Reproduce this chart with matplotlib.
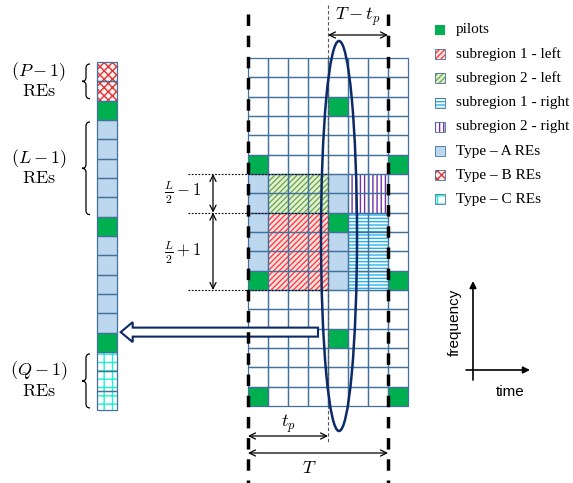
import matplotlib.pyplot as plt
from matplotlib.patches import Rectangle, Ellipse, FancyArrow, PathPatch
from matplotlib.path import Path

plt.rcParams['mathtext.fontset'] = 'cm'
plt.rcParams['hatch.linewidth'] = 1.0

# resource grid: 8 OFDM symbols (columns) x 18 subcarriers (rows), row 0 on top
N_COLS = 8
N_ROWS = 18
pilot_cells = [(0, 5), (7, 5), (0, 11), (7, 11), (0, 17), (7, 17), (4, 2), (4, 8), (4, 14)]
type_a_cells = [(0, 6), (0, 7), (0, 8), (0, 9), (0, 10),
                (4, 6), (4, 7), (4, 9), (4, 10), (4, 11)]
# blocks: first col, last col, first row, last row
sub1_left_block = (1, 3, 8, 11)
sub2_left_block = (1, 3, 6, 7)
sub1_right_block = (5, 6, 8, 11)
sub2_right_block = (5, 6, 6, 7)

# the single column on the left, top to bottom
left_column = ['B', 'B', 'P', 'A', 'A', 'A', 'A', 'A', 'P',
               'A', 'A', 'A', 'A', 'A', 'P', 'C', 'C', 'C']
T_SYMBOLS = 7
TP_SYMBOLS = 4

legend_keys = ['P', 'S1L', 'S2L', 'S1R', 'S2R', 'A', 'B', 'C']
legend_labels = ['pilots', 'subregion 1 - left', 'subregion 2 - left',
                 'subregion 1 - right', 'subregion 2 - right',
                 'Type – A REs', 'Type – B REs', 'Type – C REs']

# face colour, hatch colour, hatch
STYLE = {
    'P': ('#00b050', None, None),
    'A': ('#bdd7ee', None, None),
    'B': ('#fff0f0', '#e03535', 'xxxx'),
    'C': ('white', '#1ff0d0', '++'),
    'S1L': ('#ffe2e2', '#ff4040', '//////'),
    'S2L': ('#e4f0da', '#70ad47', '//////'),
    'S1R': ('white', '#22b4f0', '-----'),
    'S2R': ('white', '#7030a0', '||||'),
}
GRID_C = '#41719c'
NAVY = '#0c2a66'

GX0, GY0 = 248, 58
LX0, LY0 = 96.7, 62
CW, CH = 20, 19.33


def fill_cell(ax, x, y, w, h, key):
    fc, hc, hatch = STYLE[key]
    if hatch is None:
        ax.add_patch(Rectangle((x, y), w, h, fc=fc, lw=0, zorder=1))
    else:
        ax.add_patch(Rectangle((x, y), w, h, fc=fc, ec=hc, hatch=hatch, lw=0, zorder=1))


def brace(ax, x, y1, y2):
    ym = (y1 + y2) / 2
    verts = [(x + 4, y1), (x, y1), (x, y1 + 4), (x, ym - 4), (x, ym), (x - 4, ym),
             (x, ym), (x, ym + 4), (x, y2 - 4), (x, y2), (x + 4, y2)]
    codes = [Path.MOVETO, Path.CURVE3, Path.CURVE3, Path.LINETO, Path.CURVE3, Path.CURVE3,
             Path.CURVE3, Path.CURVE3, Path.LINETO, Path.CURVE3, Path.CURVE3]
    ax.add_patch(PathPatch(Path(verts, codes), fc='none', ec='black', lw=0.9))


fig = plt.figure(figsize=(5.73, 4.83), dpi=100)
ax = fig.add_axes([0, 0, 1, 1])
ax.set_xlim(0, 573)
ax.set_ylim(483, 0)
ax.axis('off')

# main grid contents
for c, r in pilot_cells:
    fill_cell(ax, GX0 + c * CW, GY0 + r * CH, CW, CH, 'P')
for c, r in type_a_cells:
    fill_cell(ax, GX0 + c * CW, GY0 + r * CH, CW, CH, 'A')
for blk, key in [(sub1_left_block, 'S1L'), (sub2_left_block, 'S2L'),
                 (sub1_right_block, 'S1R'), (sub2_right_block, 'S2R')]:
    c0, c1, r0, r1 = blk
    fill_cell(ax, GX0 + c0 * CW, GY0 + r0 * CH, (c1 - c0 + 1) * CW, (r1 - r0 + 1) * CH, key)
for c in range(N_COLS):
    for r in range(N_ROWS):
        ax.add_patch(Rectangle((GX0 + c * CW, GY0 + r * CH), CW, CH,
                               fc='none', ec=GRID_C, lw=0.9, zorder=2))

# left column
for i, key in enumerate(left_column):
    fill_cell(ax, LX0, LY0 + i * CH, CW, CH, key)
    ax.add_patch(Rectangle((LX0, LY0 + i * CH), CW, CH, fc='none', ec=GRID_C, lw=0.9, zorder=2))

# hollow arrow towards the left column
ax.add_patch(FancyArrow(GX0 + 3.5 * CW, GY0 + 14 * CH + 3.5, -(GX0 + 3.5 * CW - LX0 - CW - 4), 0,
                        width=9, head_width=20, head_length=12, length_includes_head=True,
                        fc='white', ec=NAVY, lw=1.5, zorder=3))

# frame lines
x_t = GX0 + T_SYMBOLS * CW
x_tp = GX0 + TP_SYMBOLS * CW
for x in (GX0, x_t):
    ax.plot([x, x], [14, 483], color='black', lw=2.5, ls=(0, (3.3, 2.8)), zorder=4)
ax.plot([x_tp, x_tp], [5, 443], color='#555555', lw=0.8, ls=(0, (3, 2)), zorder=4)

# ellipse
ax.add_patch(Ellipse((339, 236), 36, 390, fc='none', ec=NAVY, lw=1.8, zorder=5))

# helper lines and L/2 arrows
for r in (6, 8, 12):
    y = GY0 + r * CH
    ax.plot([188, x_tp], [y, y], color='black', lw=0.8, ls=(0, (1.5, 1.5)), zorder=4)
arrow_kw = dict(arrowstyle='<->', lw=0.9, color='black', shrinkA=0, shrinkB=0, mutation_scale=11)
ax.annotate('', xy=(213, GY0 + 6 * CH), xytext=(213, GY0 + 8 * CH), arrowprops=arrow_kw)
ax.annotate('', xy=(213, GY0 + 8 * CH), xytext=(213, GY0 + 12 * CH), arrowprops=arrow_kw)
ax.text(183, GY0 + 7 * CH, r'$\frac{L}{2}-1$', fontsize=12, ha='center', va='center')
ax.text(183, GY0 + 10 * CH + 2, r'$\frac{L}{2}+1$', fontsize=12, ha='center', va='center')

# T, tp arrows
ax.annotate('', xy=(x_tp, 35), xytext=(x_t, 35), arrowprops=arrow_kw)
ax.text((x_tp + x_t) / 2, 17, r'$T-t_p$', fontsize=13, ha='center', va='center')
ax.annotate('', xy=(GX0, 436), xytext=(x_tp, 436), arrowprops=arrow_kw)
ax.text((GX0 + x_tp) / 2, 424, r'$t_p$', fontsize=13, ha='center', va='center')
ax.annotate('', xy=(GX0, 453), xytext=(x_t, 453), arrowprops=arrow_kw)
ax.text(309, 468, r'$T$', fontsize=13, ha='center', va='center')

# braces and labels on the left
for (r0, r1), name in [((0, 2), 'P'), ((3, 8), 'L'), ((15, 18), 'Q')]:
    y1, y2 = LY0 + r0 * CH + 2, LY0 + r1 * CH - 2
    brace(ax, 86, y1, y2)
    ym = (y1 + y2) / 2
    ax.text(39, ym - 10, r'$(%s-1)$' % name, fontsize=13, ha='center', va='center')
    ax.text(39, ym + 10, r'$\mathrm{REs}$', fontsize=13, ha='center', va='center')

# legend
for i, (key, lab) in enumerate(zip(legend_keys, legend_labels)):
    y = 30 + i * 24.2
    fill_cell(ax, 435, y - 5, 10, 10, key)
    if key != 'P':
        ax.add_patch(Rectangle((435, y - 5), 10, 10, fc='none', ec=GRID_C, lw=0.6, zorder=2))
    ax.text(456, y, lab, fontsize=11, family='Liberation Serif', ha='left', va='center')

# time / frequency axes
ax.annotate('', xy=(473, 281), xytext=(473, 380),
            arrowprops=dict(arrowstyle='-|>', lw=1.2, color='black', shrinkA=0, shrinkB=0, mutation_scale=10))
ax.annotate('', xy=(530, 370), xytext=(466, 370),
            arrowprops=dict(arrowstyle='-|>', lw=1.2, color='black', shrinkA=0, shrinkB=0, mutation_scale=10))
ax.text(455, 322, 'frequency', fontsize=11, family='Liberation Sans', rotation=90, ha='center', va='center')
ax.text(510, 392, 'time', fontsize=11, family='Liberation Sans', ha='center', va='center')

fig.savefig('out.png', dpi=100)
